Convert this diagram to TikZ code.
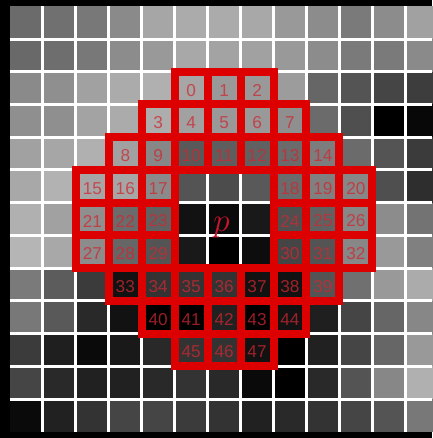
\documentclass[tikz,border=0pt]{standalone}
\usepackage{fontspec}
\setmainfont{Liberation Sans}

\definecolor{ringred}{RGB}{220,0,0}
\definecolor{numred}{RGB}{205,40,50}

% number / column / row of the cells on the ring
\newcommand\ringcells{0/5/2,1/6/2,2/7/2,
  3/4/3,4/5/3,5/6/3,6/7/3,7/8/3,
  8/3/4,9/4/4,10/5/4,11/6/4,12/7/4,13/8/4,14/9/4,
  15/2/5,16/3/5,17/4/5,18/8/5,19/9/5,20/10/5,
  21/2/6,22/3/6,23/4/6,24/8/6,25/9/6,26/10/6,
  27/2/7,28/3/7,29/4/7,30/8/7,31/9/7,32/10/7,
  33/3/8,34/4/8,35/5/8,36/6/8,37/7/8,38/8/8,39/9/8,
  40/4/9,41/5/9,42/6/9,43/7/9,44/8/9,
  45/5/10,46/6/10,47/7/10}

\begin{document}
\begin{tikzpicture}[x=0.75pt,y=0.75pt,yscale=-1,xscale=1,
  gridline/.style={draw=white,line width=2.25pt},
  ring/.style={draw=ringred,line width=6pt,line join=miter},
  num/.style={text=numred,text opacity=0.75,font=\fontsize{12.9}{14}\selectfont,inner sep=0pt}]
\useasboundingbox (0,0) rectangle (432,438);

%Shape: Rectangle [frame]
\fill [black] (0,0) rectangle (432,438);

%Shape: Rectangle [pixels, one row per line]
\foreach \v [count=\i from 0] in {42,44,47,54,65,67,67,66,60,55,48,55,63} \fill [white!\v!black] ({10+32.94*\i},{6.3+32.73*0}) rectangle +(32.94,32.73);
\foreach \v [count=\i from 0] in {41,43,47,55,60,66,64,63,60,55,48,48,54} \fill [white!\v!black] ({10+32.94*\i},{6.3+32.73*1}) rectangle +(32.94,32.73);
\foreach \v [count=\i from 0] in {54,56,63,67,69,65,60,60,61,40,33,27,24} \fill [white!\v!black] ({10+32.94*\i},{6.3+32.73*2}) rectangle +(32.94,32.73);
\foreach \v [count=\i from 0] in {56,56,64,67,68,63,60,60,56,42,31,0,3} \fill [white!\v!black] ({10+32.94*\i},{6.3+32.73*3}) rectangle +(32.94,32.73);
\foreach \v [count=\i from 0] in {63,65,69,63,53,35,37,38,42,49,42,33,23} \fill [white!\v!black] ({10+32.94*\i},{6.3+32.73*4}) rectangle +(32.94,32.73);
\foreach \v [count=\i from 0] in {66,70,65,65,54,33,30,35,42,50,53,31,18} \fill [white!\v!black] ({10+32.94*\i},{6.3+32.73*5}) rectangle +(32.94,32.73);
\foreach \v [count=\i from 0] in {69,63,56,42,38,7,4,10,31,38,53,55,45} \fill [white!\v!black] ({10+32.94*\i},{6.3+32.73*6}) rectangle +(32.94,32.73);
\foreach \v [count=\i from 0] in {71,66,55,40,33,10,0,5,27,33,53,60,50} \fill [white!\v!black] ({10+32.94*\i},{6.3+32.73*7}) rectangle +(32.94,32.73);
\foreach \v [count=\i from 0] in {48,36,23,7,20,20,20,7,7,33,44,60,67} \fill [white!\v!black] ({10+32.94*\i},{6.3+32.73*8}) rectangle +(32.94,32.73);
\foreach \v [count=\i from 0] in {47,35,16,7,0,0,13,0,7,12,27,40,53} \fill [white!\v!black] ({10+32.94*\i},{6.3+32.73*9}) rectangle +(32.94,32.73);
\foreach \v [count=\i from 0] in {23,12,4,10,16,20,20,7,0,13,27,40,60} \fill [white!\v!black] ({10+32.94*\i},{6.3+32.73*10}) rectangle +(32.94,32.73);
\foreach \v [count=\i from 0] in {27,16,13,13,16,20,16,4,0,16,33,53,69} \fill [white!\v!black] ({10+32.94*\i},{6.3+32.73*11}) rectangle +(32.94,32.73);
\foreach \v [count=\i from 0] in {4,13,20,27,27,23,20,13,16,20,27,33,47} \fill [white!\v!black] ({10+32.94*\i},{6.3+32.73*12}) rectangle +(32.94,32.73);

%Straight Lines [grid]
\foreach \k in {1,...,12} \draw [gridline] ({10+32.94*\k},6.3) -- ({10+32.94*\k},431.8);
\foreach \k in {1,...,12} \draw [gridline] (10,{6.3+32.73*\k}) -- (432,{6.3+32.73*\k});

%Shape: Rectangle [ring cells]
\foreach \n/\i/\j in \ringcells \draw [ring] ({10+32.94*\i},{6.3+32.73*\j}) rectangle +(32.94,32.73);

% Text Node
\foreach \n/\i/\j in \ringcells \node [num] (n\n) at ({10+32.94*(\i+0.5)},{6.3+32.73*(\j+0.5)+2}) {\n};
% Text Node
\node [anchor=base,text={rgb,255:red,200;green,20;blue,45},font=\fontsize{24}{26}\selectfont,inner sep=0pt] (centre) at (221.5,231) {$p$};

\end{tikzpicture}
\end{document}
